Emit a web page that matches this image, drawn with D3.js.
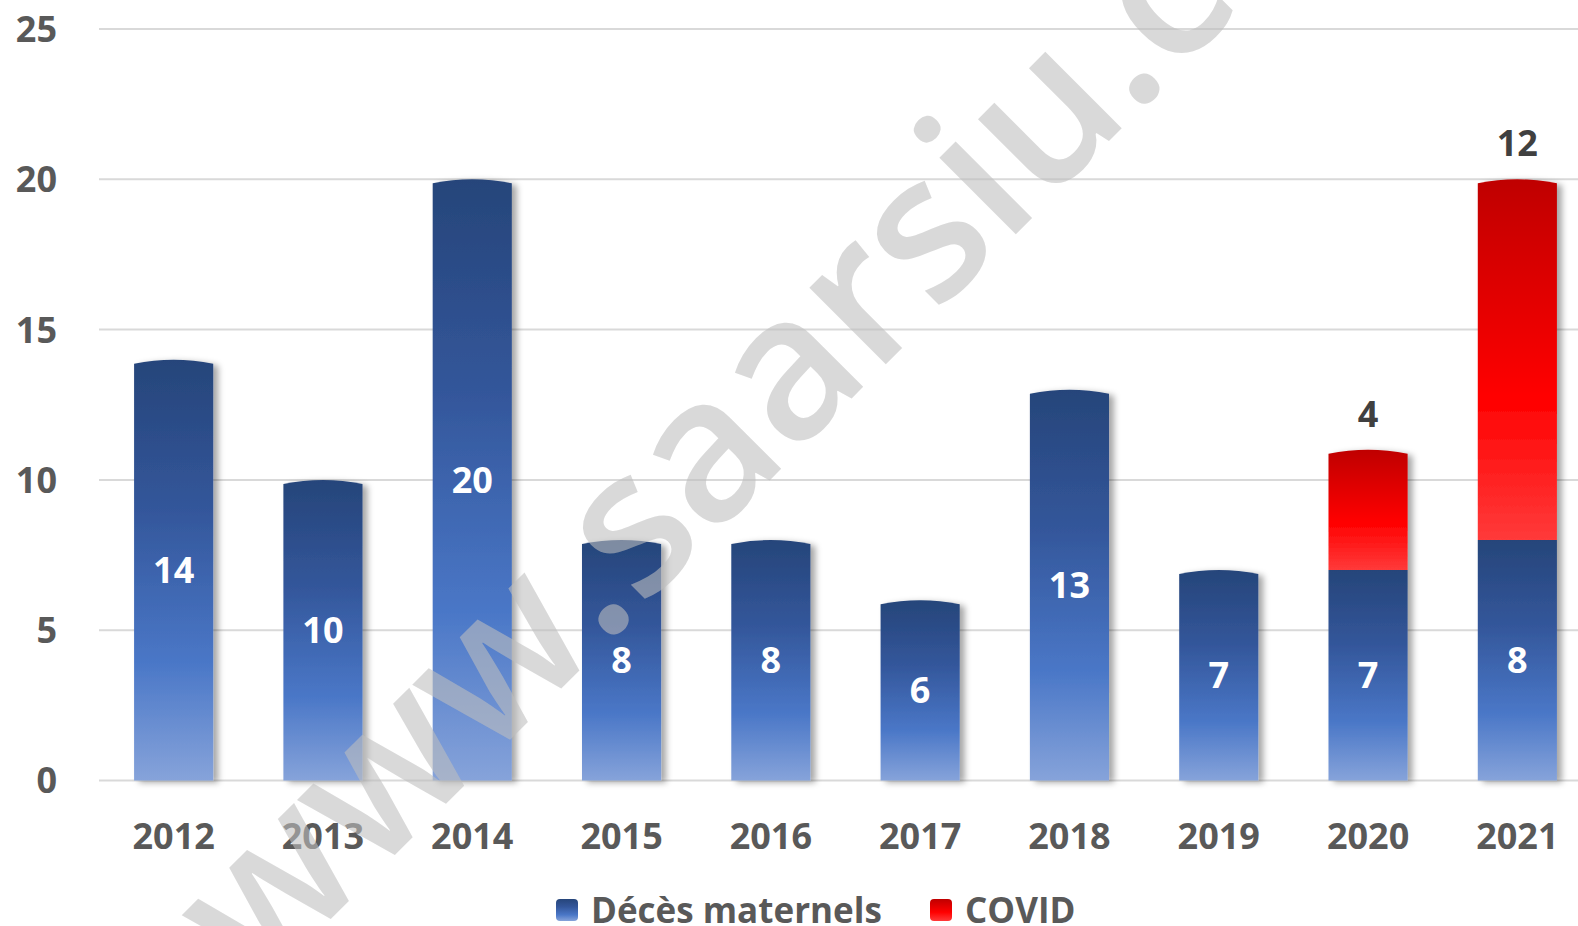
<!DOCTYPE html>
<html><head><meta charset="utf-8">
<script src="https://cdn.jsdelivr.net/npm/d3@7"></script>
<style>html,body{margin:0;padding:0;background:#fff;overflow:hidden}</style>
</head><body>
<svg id="c" width="1578" height="926"></svg>
<script>
const years = ['2012','2013','2014','2015','2016','2017','2018','2019','2020','2021'];
const maternal = [14,10,20,8,8,6,13,7,7,8];
const covid = [0,0,0,0,0,0,0,0,4,12];
const yTicks = [0,5,10,15,20,25];
const seriesNames = ['Décès maternels','COVID'];
const watermark = 'www.saarsiu.com';

const W = 1578, H = 926;
const svg = d3.select('#c');
const FONT = "'Open Sans', 'DejaVu Sans', sans-serif";
const defs = svg.append('defs');

const gb = defs.append('linearGradient').attr('id','gBlue').attr('x1',0).attr('y1',0).attr('x2',0).attr('y2',1);
[[0,'#26457a'],[0.35,'#33569a'],[0.72,'#4a77c7'],[1,'#86a3da']].forEach(([o,c])=>gb.append('stop').attr('offset',o).attr('stop-color',c));
const gr = defs.append('linearGradient').attr('id','gRed').attr('x1',0).attr('y1',0).attr('x2',0).attr('y2',1);
[[0,'#bf0000'],[0.6,'#ff0000'],[1,'#ff3a3a']].forEach(([o,c])=>gr.append('stop').attr('offset',o).attr('stop-color',c));
const f = defs.append('filter').attr('id','sh').attr('x','-20%').attr('y','-10%').attr('width','150%').attr('height','130%');
f.append('feDropShadow').attr('dx',5).attr('dy',2).attr('stdDeviation',3).attr('flood-color','#000').attr('flood-opacity',0.35);

const x = d3.scaleBand().domain(years).range([99, 1592]).paddingInner(0.47).paddingOuter(0.235);
const y = d3.scaleLinear().domain([0,25]).range([780.5, 29]);

// gridlines
svg.append('g').selectAll('line').data(yTicks).join('line')
  .attr('x1',99).attr('x2',W).attr('y1',d=>y(d)).attr('y2',d=>y(d))
  .attr('stroke','#d9d9d9').attr('stroke-width',2);

// y labels
svg.append('g').selectAll('text').data(yTicks).join('text')
  .attr('x',57).attr('y',d=>y(d)).attr('dy','0.36em').attr('text-anchor','end')
  .attr('font-family',FONT).attr('font-weight',700).attr('font-size',36).attr('fill','#595959')
  .text(d=>d);

// x labels
svg.append('g').selectAll('text').data(years).join('text')
  .attr('x',d=>x(d)+x.bandwidth()/2).attr('y',836).attr('dy','0.36em').attr('text-anchor','middle')
  .attr('font-family',FONT).attr('font-weight',700).attr('font-size',36).attr('fill','#595959')
  .text(d=>d);

const table = years.map((yr,i)=>({year:yr, m:maternal[i], c:covid[i]}));
const stack = d3.stack().keys(['m','c'])(table);

const bw = x.bandwidth();
function barPath(x0, yTop, yBot, w, curved){
  if(!curved) return `M${x0},${yBot}L${x0},${yTop}L${x0+w},${yTop}L${x0+w},${yBot}Z`;
  return `M${x0},${yBot}L${x0},${yTop+4}Q${x0+w/2},${yTop-4} ${x0+w},${yTop+4}L${x0+w},${yBot}Z`;
}
const gBars = svg.append('g').attr('filter','url(#sh)');
stack.forEach((s,si)=>{
  gBars.selectAll(null).data(s.filter(d=>d[1]-d[0]>0)).join('path')
    .attr('d',(d,i)=>{
      const top = si===1 || d.data.c===0;
      return barPath(x(d.data.year), y(d[1]), y(d[0]), bw, top);
    })
    .attr('fill', si===0 ? 'url(#gBlue)' : 'url(#gRed)');
});

// labels inside blue bars
svg.append('g').selectAll('text').data(stack[0]).join('text')
  .attr('x',d=>x(d.data.year)+bw/2).attr('y',d=>y((d[0]+d[1])/2)).attr('dy','0.36em')
  .attr('text-anchor','middle').attr('font-family',FONT).attr('font-weight',700).attr('font-size',36)
  .attr('fill','#ffffff').text(d=>d[1]-d[0]);

// labels above covid bars
svg.append('g').selectAll('text').data(stack[1].filter(d=>d[1]-d[0]>0)).join('text')
  .attr('x',d=>x(d.data.year)+bw/2).attr('y',d=>y(d[1])-36).attr('dy','0.36em')
  .attr('text-anchor','middle').attr('font-family',FONT).attr('font-weight',700).attr('font-size',36)
  .attr('fill','#404040').text(d=>d[1]-d[0]);

// legend
const leg = svg.append('g');
const legItems = [{name:seriesNames[0], fill:'url(#gBlue)', x:556},{name:seriesNames[1], fill:'url(#gRed)', x:930}];
legItems.forEach(it=>{
  leg.append('rect').attr('x',it.x).attr('y',899).attr('width',22).attr('height',22).attr('rx',4).attr('fill',it.fill);
  leg.append('text').attr('x',it.x+35).attr('y',923).attr('font-family',FONT).attr('font-weight',700)
    .attr('font-size',35).attr('fill','#595959').text(it.name);
});

// watermark
const wm = svg.append('text').text(watermark)
  .attr('font-family',FONT).attr('font-weight',600).attr('font-size',200)
  .attr('fill','rgb(190,190,190)').attr('fill-opacity',0.585);
const n = wm.node();
const s = n.getStartPositionOfChar(3).x, e = n.getEndPositionOfChar(3).x;
const cx = (s+e)/2;
wm.attr('transform',`translate(622,628) rotate(-45) translate(${-cx},0)`);
</script>
</body></html>
